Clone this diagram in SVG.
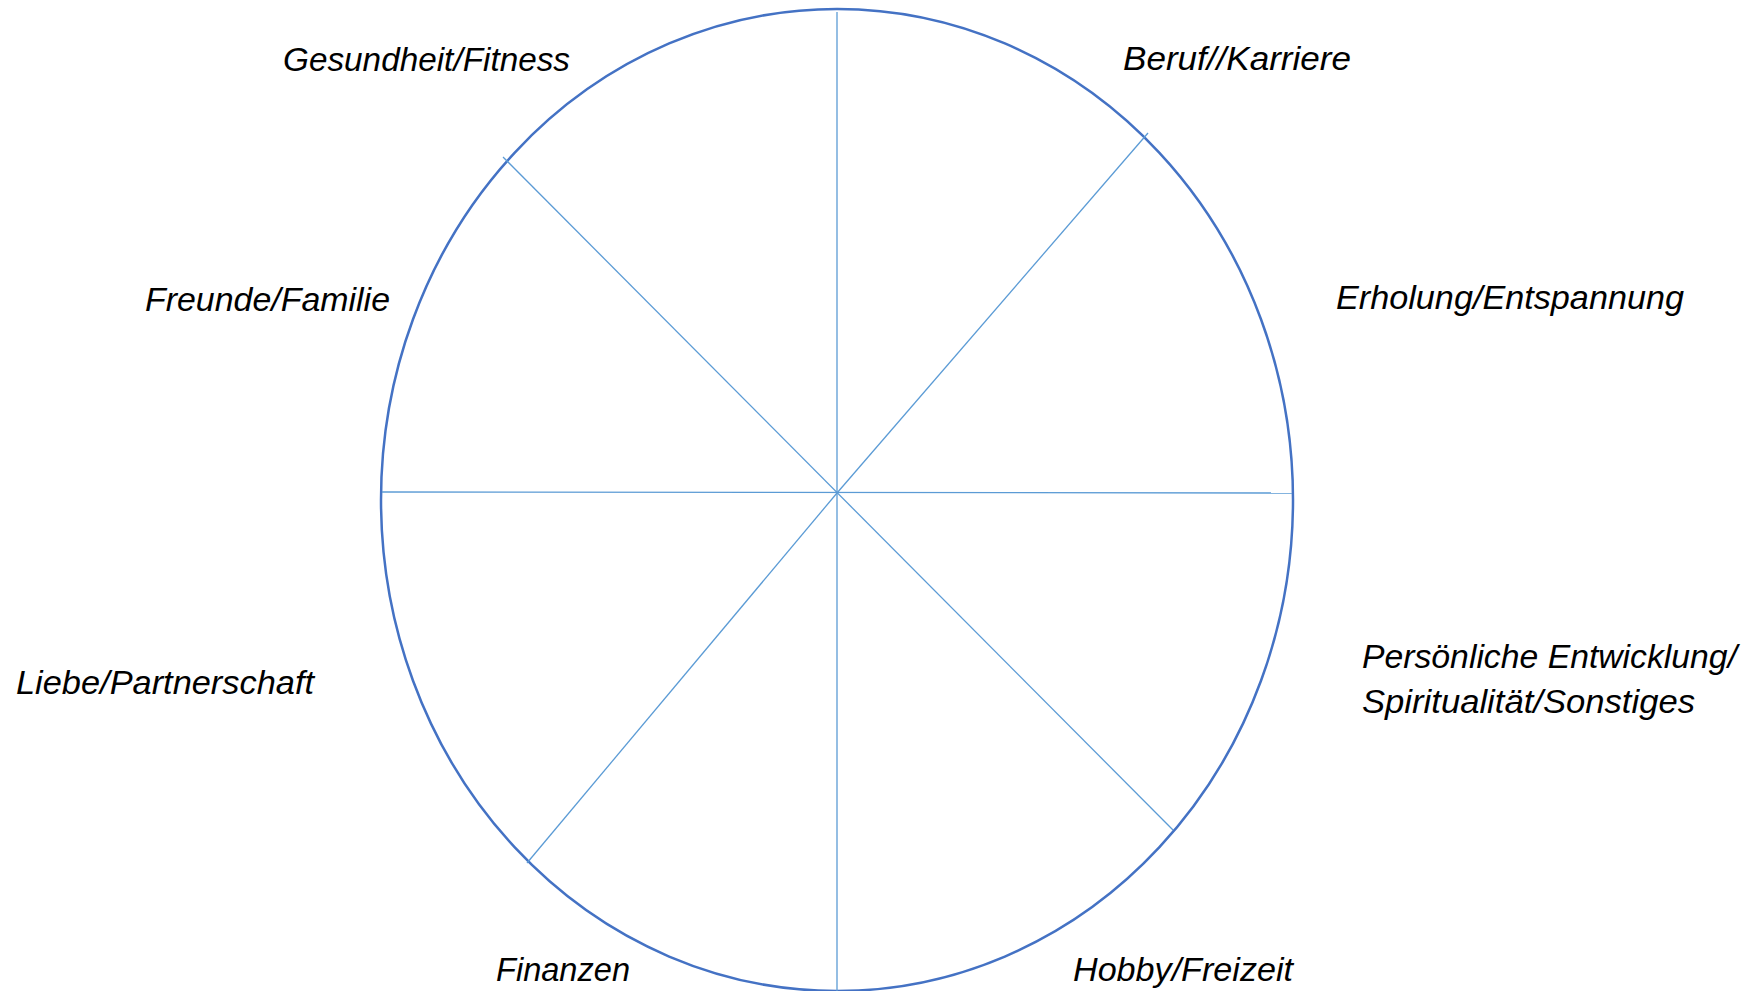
<svg xmlns="http://www.w3.org/2000/svg" width="1760" height="991" viewBox="0 0 1760 991">
<style>
.lbl{font-family:"Liberation Sans",Arial,sans-serif;font-style:italic;font-size:34px;fill:#000}
.spoke{stroke:#5B9BD5;stroke-width:1.3;fill:none}
.rim{stroke:#4472C4;stroke-width:2.5;fill:none}
</style>
<rect width="1760" height="991" fill="#fff"/>
<g id="wheel">
<ellipse class="rim" cx="837" cy="500" rx="456" ry="491"/>
</g>
<g id="connectors">
<line class="spoke" x1="837" y1="12" x2="837" y2="991"/>
<line class="spoke" x1="382" y1="492" x2="1292" y2="493"/>
<line class="spoke" x1="503" y1="157" x2="1173" y2="830"/>
<line class="spoke" x1="1148" y1="133" x2="837" y2="493"/>
<line class="spoke" x1="837" y1="493" x2="527" y2="863"/>
</g>
<g id="n-gesundheit"><text class="lbl" x="283" y="71" textLength="287" lengthAdjust="spacingAndGlyphs">Gesundheit/Fitness</text></g>
<g id="n-beruf"><text class="lbl" x="1123" y="70" textLength="228" lengthAdjust="spacingAndGlyphs">Beruf//Karriere</text></g>
<g id="n-freunde"><text class="lbl" x="145" y="311" textLength="245" lengthAdjust="spacingAndGlyphs">Freunde/Familie</text></g>
<g id="n-erholung"><text class="lbl" x="1336" y="309" textLength="348" lengthAdjust="spacingAndGlyphs">Erholung/Entspannung</text></g>
<g id="n-persoenlich"><text class="lbl" x="1362" y="668" textLength="375" lengthAdjust="spacingAndGlyphs">Persönliche Entwicklung/</text><text class="lbl" x="1362" y="713" textLength="333" lengthAdjust="spacingAndGlyphs">Spiritualität/Sonstiges</text></g>
<g id="n-liebe"><text class="lbl" x="16" y="694" textLength="298" lengthAdjust="spacingAndGlyphs">Liebe/Partnerschaft</text></g>
<g id="n-finanzen"><text class="lbl" x="496" y="981" textLength="134" lengthAdjust="spacingAndGlyphs">Finanzen</text></g>
<g id="n-hobby"><text class="lbl" x="1073" y="981" textLength="220" lengthAdjust="spacingAndGlyphs">Hobby/Freizeit</text></g>
</svg>
